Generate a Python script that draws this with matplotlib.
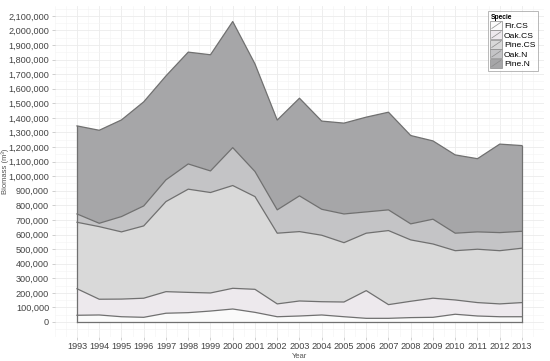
import matplotlib
matplotlib.use("Agg")
import matplotlib.pyplot as plt
import numpy as np
from matplotlib.legend_handler import HandlerBase
from matplotlib.patches import Rectangle
from matplotlib.lines import Line2D
from matplotlib.ticker import FuncFormatter, MultipleLocator

plt.rcParams['font.family'] = ['Liberation Sans', 'DejaVu Sans']

years = list(range(1993, 2014))
species = ["Fir.CS", "Oak.CS", "Pine.CS", "Oak.N", "Pine.N"]
fir_cs = [46, 48, 36, 32, 60, 64, 75, 89, 66, 36, 41, 48, 36, 25, 25, 30, 32, 53, 41, 36, 36]
oak_cs = [182, 108, 121, 131, 148, 139, 124, 142, 158, 88, 103, 91, 101, 190, 94, 112, 131, 98, 92, 88, 97]
pine_cs = [456, 498, 461, 496, 618, 708, 689, 705, 636, 485, 476, 456, 407, 394, 508, 421, 372, 338, 366, 365, 373]
oak_n = [57, 23, 105, 137, 149, 173, 148, 260, 172, 160, 245, 178, 197, 146, 142, 110, 170, 120, 119, 124, 116]
pine_n = [604, 638, 663, 714, 713, 767, 797, 865, 738, 616, 670, 605, 623, 650, 670, 606, 537, 537, 502, 607, 588]
y_ticks = list(range(0, 2100001, 100000))
colors = ["#fafafa", "#ede9ed", "#d9d9d9", "#c4c4c6", "#a6a6a8"]
line_color = "#707070"

series = [np.array(s) * 1000 for s in (fir_cs, oak_cs, pine_cs, oak_n, pine_n)]

fig = plt.figure(figsize=(5.5, 3.61), dpi=100)
ax = fig.add_axes([0.0995, 0.0665, 0.89, 0.9155])

x = np.array(years)
bottom = np.zeros(len(years))
for s, c in zip(series, colors):
    top = bottom + s
    ax.fill_between(x, bottom, top, facecolor=c, edgecolor='none', zorder=2)
    ax.plot(x, top, color=line_color, lw=0.9, zorder=3)
    bottom = top
ax.plot(x, np.zeros(len(years)), color=line_color, lw=0.9, zorder=3)
ax.plot([x[0], x[0]], [0, bottom[0]], color=line_color, lw=0.9, zorder=3)
ax.plot([x[-1], x[-1]], [0, bottom[-1]], color=line_color, lw=0.9, zorder=3)

ax.set_xlim(1992, 2014)
ax.set_xticks(years)
ax.set_xticklabels([str(y) for y in years])
ax.set_yticks(y_ticks)
ax.yaxis.set_minor_locator(MultipleLocator(50000))
ax.xaxis.set_minor_locator(MultipleLocator(0.5))
ax.yaxis.set_major_formatter(FuncFormatter(lambda v, p: f"{int(v):,}"))
ax.set_ylim(-103000, 2164000)

ax.grid(True, which='major', color='#ebebeb', lw=0.6, zorder=0)
ax.grid(True, which='minor', color='#f4f4f4', lw=0.4, zorder=0)
for sp in ax.spines.values():
    sp.set_visible(False)
ax.tick_params(axis='both', which='major', labelsize=6.6, colors='#bbbbbb',
               labelcolor='#444444', length=2, width=0.5, pad=2)
ax.tick_params(axis='both', which='minor', length=0)
ax.tick_params(axis='x', pad=1.5)
ax.set_xlabel("Year", fontsize=5.5, color='#555555')
ax.set_ylabel("Biomass (m³)", fontsize=5.5, color='#555555')
ax.xaxis.set_label_coords(0.5, -0.047)
ax.yaxis.set_label_coords(-0.094, 0.5)


class AreaHandler(HandlerBase):
    def __init__(self, fc):
        super().__init__()
        self.fc = fc

    def create_artists(self, legend, orig_handle, xd, yd, w, h, fs, trans):
        r = Rectangle((-xd, -yd), w, h, facecolor=self.fc, edgecolor='#8a8a8a',
                      lw=0.5, transform=trans)
        l = Line2D([-xd + 1, -xd + w - 1], [-yd + 1, -yd + h - 1], color='#8a8a8a',
                   lw=0.5, transform=trans)
        return [r, l]


handles = [Rectangle((0, 0), 1, 1) for _ in species]
hmap = {h: AreaHandler(c) for h, c in zip(handles, colors)}
leg = fig.legend(handles, species, handler_map=hmap, loc='upper left',
                 bbox_to_anchor=(0.887, 0.969), bbox_transform=fig.transFigure,
                 title="Specie", fontsize=6.1, title_fontsize=4.8,
                 frameon=True, fancybox=False, handlelength=1.4,
                 handleheight=1.25, handletextpad=0.2, labelspacing=0.02,
                 borderpad=0.3, borderaxespad=0)
leg.get_frame().set_edgecolor('#999999')
leg.get_frame().set_linewidth(0.6)
leg.get_title().set_fontweight('bold')
leg._legend_box.align = "left"

fig.savefig("out.png", dpi=100)
